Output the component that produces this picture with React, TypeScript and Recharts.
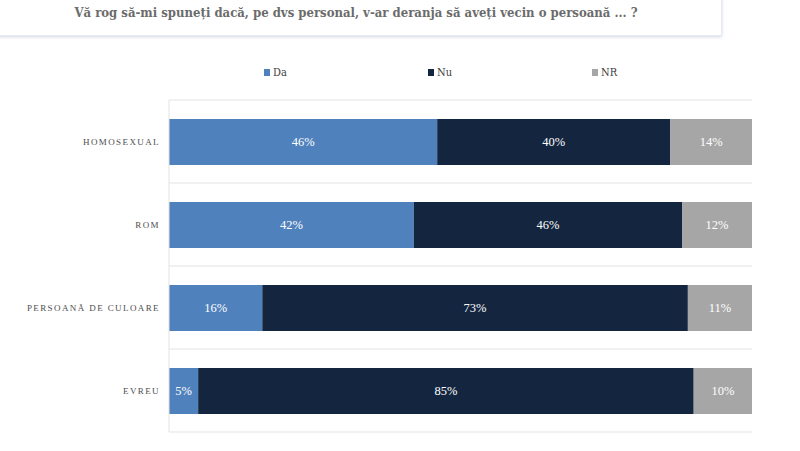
import { Bar, BarChart, CartesianGrid, LabelList, Legend, XAxis, YAxis } from 'recharts'

const categories = ['HOMOSEXUAL', 'ROM', 'PERSOANĂ DE CULOARE', 'EVREU']
const da = [46, 42, 16, 5]
const nu = [40, 46, 73, 85]
const nr = [14, 12, 11, 10]

const series = [
  { key: 'Da', values: da, color: '#4F81BD' },
  { key: 'Nu', values: nu, color: '#14263F' },
  { key: 'NR', values: nr, color: '#A6A6A6' },
]

const data = categories.map((name, i) => ({
  name,
  Da: da[i],
  Nu: nu[i],
  NR: nr[i],
}))

const serif = '"Liberation Serif", "DejaVu Serif", serif'

const LegendContent = () => (
  <div style={{ position: 'relative', height: 14, width: 800 }}>
    {series.map((s, i) => (
      <div
        key={s.key}
        style={{
          position: 'absolute',
          left: 264 + i * 164,
          top: 0,
          display: 'flex',
          alignItems: 'center',
          fontFamily: '"DejaVu Serif Condensed", serif',
          fontSize: 11,
          color: '#404040',
        }}>
        <span style={{ width: 6, height: 7, background: s.color, marginRight: 3, display: 'inline-block' }} />
        {s.key}
      </div>
    ))}
  </div>
)

const CategoryTick = ({ x, y, payload }: any) => (
  <text
    x={x}
    y={y}
    dy={3}
    textAnchor='end'
    fontFamily={serif}
    fontSize={9}
    fill='#4d4d4d'
    letterSpacing={1.4}>
    {payload.value}
  </text>
)

const App = () => {
  return (
    <div style={{ position: 'absolute', left: 0, top: 0, width: 800, height: 451, background: '#fff' }}>
      <div
        style={{
          position: 'absolute',
          left: -4,
          top: -6,
          width: 726,
          height: 42,
          background: '#fff',
          boxShadow: '0 1px 3px rgba(120,140,180,0.35)',
          border: '1px solid #e8ecf2',
          boxSizing: 'border-box',
        }}
      />
      <div
        style={{
          position: 'absolute',
          left: 0,
          top: 5,
          width: 712,
          textAlign: 'center',
          fontFamily: '"DejaVu Serif Condensed", serif',
          fontWeight: 'bold',
          fontSize: 13,
          color: '#6b6b6b',
        }}>
        Vă rog să-mi spuneți dacă, pe dvs personal, v-ar deranja să aveți vecin o persoană ... ?
      </div>
      <div style={{ position: 'absolute', left: 0, top: 0 }}>
        <BarChart
          width={800}
          height={451}
          data={data}
          layout='vertical'
          margin={{ top: 100, right: 48, left: 9, bottom: 19 }}
          barSize={46}>
          <CartesianGrid
            vertical={false}
            stroke='#e3e3e3'
            horizontalCoordinatesGenerator={({ offset }: any) =>
              categories.concat(['']).map((_, i) => offset.top + (offset.height * i) / categories.length)
            }
          />
          <XAxis type='number' domain={[0, 100]} hide />
          <YAxis
            type='category'
            dataKey='name'
            width={160}
            tickLine={false}
            tickSize={0}
            tickMargin={9}
            axisLine={{ stroke: '#e3e3e3' }}
            tick={<CategoryTick />}
          />
          <Legend
            layout='horizontal'
            verticalAlign='middle'
            align='center'
            content={LegendContent}
            wrapperStyle={{ top: 66, left: 0, width: 800 }}
          />
          {series.map((s) => (
            <Bar key={s.key} dataKey={s.key} stackId='a' fill={s.color} isAnimationActive={false}>
              <LabelList
                dataKey={s.key}
                position='center'
                fill='#ffffff'
                fontFamily={serif}
                fontSize={12.5}
                formatter={(v: any) => `${v}%`}
              />
            </Bar>
          ))}
        </BarChart>
      </div>
    </div>
  )
}

export default App
